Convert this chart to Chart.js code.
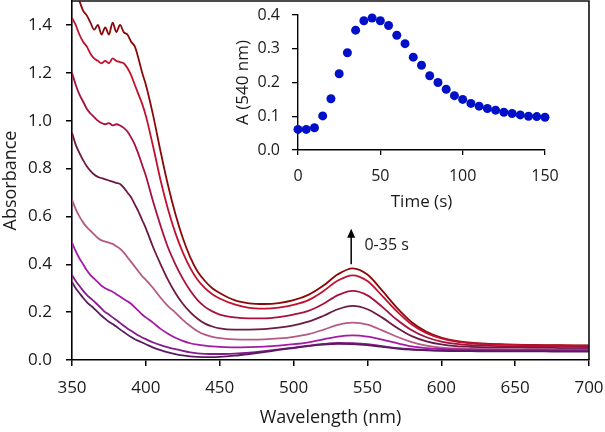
<!DOCTYPE html>
<html><head><meta charset="utf-8">
<script src="https://cdn.jsdelivr.net/npm/chart.js@4/dist/chart.umd.min.js"></script>
<style>
html,body{margin:0;padding:0;background:#fff;}
#wrap{position:relative;width:605px;height:432px;}
#main{position:absolute;left:0;top:0;}
#inset{position:absolute;left:230px;top:0;}
</style></head>
<body>
<div id="wrap">
<canvas id="main" width="605" height="432"></canvas>
<canvas id="inset" width="360" height="215"></canvas>
</div>
<script>
// Wavelength grid (nm)
const wavelengths = [350,352.5,355,357.5,360,362.5,365,367.5,370,372.5,375,377.5,380,382.5,385,387.5,390,392.5,395,397.5,400,
 405,410,415,420,425,430,435,440,445,450,
 460,470,480,490,500,510,520,530,540,550,560,570,580,590,600,610,620,630,640,650,660,670,680,690,700];

const abs0s  = [0.326,0.30,0.28,0.26,0.242,0.228,0.215,0.20,0.185,0.172,0.16,0.15,0.14,0.128,0.117,0.106,0.096,0.087,0.08,0.073,0.066,
 0.052,0.041,0.032,0.025,0.019,0.015,0.013,0.012,0.012,0.013,
 0.018,0.025,0.033,0.042,0.05,0.058,0.064,0.067,0.066,0.062,0.055,0.048,0.043,0.04,0.038,0.037,0.037,0.036,0.036,0.036,0.036,0.036,0.035,0.035,0.035];
const abs5s  = [0.355,0.33,0.31,0.29,0.272,0.258,0.245,0.23,0.215,0.20,0.19,0.178,0.167,0.155,0.143,0.132,0.122,0.112,0.102,0.094,0.087,
 0.073,0.062,0.053,0.045,0.038,0.032,0.028,0.026,0.025,0.025,
 0.027,0.031,0.037,0.044,0.052,0.06,0.067,0.071,0.07,0.066,0.058,0.05,0.045,0.042,0.04,0.04,0.039,0.039,0.039,0.038,0.038,0.038,0.038,0.038,0.038];
const abs10s = [0.49,0.455,0.425,0.40,0.375,0.355,0.34,0.325,0.31,0.30,0.292,0.285,0.275,0.265,0.255,0.245,0.235,0.22,0.205,0.19,0.178,
 0.155,0.13,0.11,0.093,0.08,0.07,0.064,0.06,0.057,0.055,
 0.053,0.054,0.056,0.06,0.066,0.074,0.086,0.098,0.103,0.098,0.085,0.07,0.057,0.05,0.046,0.044,0.043,0.043,0.042,0.042,0.042,0.042,0.041,0.041,0.041];
const abs15s = [0.67,0.63,0.60,0.575,0.555,0.54,0.525,0.51,0.50,0.495,0.49,0.485,0.475,0.465,0.45,0.43,0.41,0.39,0.37,0.35,0.335,
 0.30,0.26,0.225,0.198,0.168,0.142,0.12,0.106,0.097,0.091,
 0.086,0.085,0.086,0.09,0.097,0.108,0.126,0.147,0.156,0.148,0.124,0.097,0.075,0.06,0.052,0.048,0.046,0.045,0.045,0.044,0.044,0.044,0.043,0.043,0.043];
const abs20s = [0.95,0.90,0.865,0.835,0.81,0.79,0.775,0.765,0.76,0.755,0.75,0.745,0.74,0.735,0.72,0.70,0.68,0.65,0.62,0.585,0.55,
 0.47,0.40,0.335,0.28,0.235,0.20,0.172,0.152,0.14,0.132,
 0.127,0.127,0.129,0.135,0.145,0.16,0.184,0.212,0.226,0.212,0.177,0.135,0.10,0.078,0.065,0.058,0.055,0.053,0.052,0.052,0.051,0.051,0.05,0.05,0.05];
const abs25s = [1.20,1.15,1.11,1.08,1.05,1.03,1.015,1.00,0.99,0.985,0.99,0.98,0.985,0.98,0.97,0.955,0.93,0.90,0.86,0.815,0.77,
 0.66,0.56,0.47,0.40,0.34,0.29,0.25,0.222,0.203,0.19,
 0.178,0.174,0.174,0.179,0.19,0.205,0.234,0.271,0.289,0.27,0.222,0.168,0.124,0.095,0.077,0.067,0.062,0.06,0.058,0.057,0.057,0.056,0.056,0.056,0.055];
const abs30s = [1.43,1.40,1.36,1.33,1.31,1.28,1.26,1.25,1.24,1.25,1.24,1.26,1.25,1.245,1.24,1.22,1.19,1.15,1.11,1.07,1.02,
 0.89,0.75,0.63,0.53,0.45,0.385,0.335,0.30,0.275,0.257,
 0.232,0.218,0.215,0.219,0.23,0.25,0.287,0.332,0.354,0.33,0.268,0.203,0.148,0.112,0.09,0.077,0.07,0.066,0.064,0.063,0.062,0.061,0.061,0.06,0.06];
const abs35s = [1.57,1.53,1.50,1.46,1.44,1.41,1.38,1.40,1.36,1.39,1.36,1.41,1.37,1.40,1.37,1.36,1.33,1.31,1.26,1.20,1.15,
 1.02,0.87,0.73,0.61,0.51,0.43,0.37,0.33,0.30,0.28,
 0.25,0.237,0.234,0.238,0.25,0.272,0.31,0.358,0.383,0.357,0.29,0.218,0.158,0.118,0.094,0.08,0.072,0.068,0.066,0.064,0.063,0.062,0.062,0.061,0.061];

const seriesLabels = ['0 s','5 s','10 s','15 s','20 s','25 s','30 s','35 s'];
const seriesValues = [abs0s,abs5s,abs10s,abs15s,abs20s,abs25s,abs30s,abs35s];
const seriesColors = ['#5a1a60','#861a8c','#a41aa8','#b45a84','#6c1a44','#a8103e','#c2102e','#8a0808'];

const xTicks = [350,400,450,500,550,600,650,700];
const yTicks = [0,0.2,0.4,0.6,0.8,1.0,1.2,1.4];

// Inset: absorbance at 540 nm vs time
const times = [0,5,10,15,20,25,30,35,40,45,50,55,60,65,70,75,80,85,90,95,100,105,110,115,120,125,130,135,140,145,150];
const a540 = [0.061,0.061,0.066,0.101,0.152,0.226,0.288,0.355,0.383,0.391,0.383,0.369,0.340,0.315,0.275,0.251,0.220,0.200,0.180,0.161,0.150,0.138,0.130,0.123,0.118,0.112,0.108,0.104,0.100,0.099,0.097];
const insetXTicks = [0,50,100,150];
const insetYTicks = [0,0.1,0.2,0.3,0.4];

const FONT = "'Open Sans', 'Liberation Sans', sans-serif";
const TXT = '#1a1a1a';

const framePlugin = {
  id:'frame',
  afterDraw(chart){
    const {ctx, chartArea:a} = chart;
    ctx.save();
    ctx.strokeStyle = '#111'; ctx.lineWidth = 1.6;
    ctx.beginPath();
    ctx.moveTo(a.left, a.top); ctx.lineTo(a.right, a.top); ctx.lineTo(a.right, a.bottom);
    ctx.stroke();
    // arrow annotation
    const xs = chart.scales.x, ys = chart.scales.y;
    const ax = xs.getPixelForValue(539);
    const y0 = ys.getPixelForValue(0.40), y1 = ys.getPixelForValue(0.548);
    ctx.strokeStyle = '#000'; ctx.fillStyle = '#000'; ctx.lineWidth = 1.5;
    ctx.beginPath(); ctx.moveTo(ax, y0); ctx.lineTo(ax, y1 + 6); ctx.stroke();
    ctx.beginPath(); ctx.moveTo(ax, y1); ctx.lineTo(ax - 4, y1 + 9); ctx.lineTo(ax + 4, y1 + 9); ctx.closePath(); ctx.fill();
    ctx.font = "16px " + FONT; ctx.fillStyle = TXT; ctx.textAlign = 'left'; ctx.textBaseline = 'middle';
    ctx.fillText('0-35 s', xs.getPixelForValue(548), ys.getPixelForValue(0.48));
    ctx.restore();
  }
};

new Chart(document.getElementById('main'), {
  type:'line',
  data:{
    datasets: seriesValues.map((vals,i)=>({
      label: seriesLabels[i],
      data: vals.map((v,j)=>({x:wavelengths[j], y:v})),
      borderColor: seriesColors[i],
      borderWidth: 1.8,
      pointRadius: 0,
      cubicInterpolationMode: 'monotone',
      fill:false
    }))
  },
  options:{
    responsive:false, animation:false,
    layout:{padding:{top:1,right:16,left:0,bottom:0}},
    plugins:{legend:{display:false}, tooltip:{enabled:false}},
    scales:{
      x:{type:'linear', min:350, max:700,
        afterBuildTicks(s){ s.ticks = xTicks.map(v=>({value:v})); },
        afterFit(s){ s.height = 72; s.paddingLeft = 0; s.paddingRight = 0; },
        ticks:{font:{family:FONT,size:17}, color:TXT, padding:12, maxRotation:0},
        grid:{drawOnChartArea:false, drawTicks:true, tickLength:6, color:'#000', lineWidth:1.5},
        border:{color:'#000', width:1.6},
        title:{display:true, text:'Wavelength (nm)', font:{family:FONT,size:18}, color:TXT, padding:{top:0,bottom:3}}
      },
      y:{type:'linear', min:0, max:1.5,
        afterBuildTicks(s){ s.ticks = yTicks.map(v=>({value:v})); },
        afterFit(s){ s.width = 72; s.paddingTop = 0; s.paddingBottom = 0; },
        ticks:{font:{family:FONT,size:17}, color:TXT, padding:14, callback:v=>Number(v).toFixed(1)},
        grid:{drawOnChartArea:false, drawTicks:true, tickLength:6, color:'#000', lineWidth:1.5},
        border:{color:'#000', width:1.6},
        title:{display:true, text:'Absorbance', font:{family:FONT,size:18}, color:TXT, padding:{top:0,bottom:0}}
      }
    }
  },
  plugins:[framePlugin]
});

new Chart(document.getElementById('inset'), {
  type:'scatter',
  data:{datasets:[{
    label:'A540',
    data: times.map((t,i)=>({x:t, y:a540[i]})),
    backgroundColor:'#0010c8', borderColor:'#0010c8',
    pointRadius:4.5, pointBorderWidth:0, clip:false
  }]},
  options:{
    responsive:false, animation:false,
    layout:{padding:{top:15,right:45,left:0,bottom:0}},
    plugins:{legend:{display:false}, tooltip:{enabled:false}},
    scales:{
      x:{type:'linear', min:0, max:150,
        afterBuildTicks(s){ s.ticks = insetXTicks.map(v=>({value:v})); },
        afterFit(s){ s.height = 65; s.paddingLeft = 0; s.paddingRight = 0; },
        ticks:{font:{family:FONT,size:16}, color:TXT, padding:12, maxRotation:0},
        grid:{drawOnChartArea:false, drawTicks:true, tickLength:5, color:'#000', lineWidth:1.3},
        border:{color:'#000', width:1.4},
        title:{display:true, text:'Time (s)', font:{family:FONT,size:17}, color:TXT, padding:{top:0,bottom:3}}
      },
      y:{type:'linear', min:0, max:0.4,
        afterBuildTicks(s){ s.ticks = insetYTicks.map(v=>({value:v})); },
        afterFit(s){ s.width = 68; s.paddingTop = 0; s.paddingBottom = 0; },
        ticks:{font:{family:FONT,size:16}, color:TXT, padding:12, callback:v=>Number(v).toFixed(1)},
        grid:{drawOnChartArea:false, drawTicks:true, tickLength:6, color:'#000', lineWidth:1.3},
        border:{color:'#000', width:1.4},
        title:{display:true, text:'A (540 nm)', font:{family:FONT,size:17}, color:TXT, padding:{top:3,bottom:0}}
      }
    }
  }
});
</script>
</body></html>
